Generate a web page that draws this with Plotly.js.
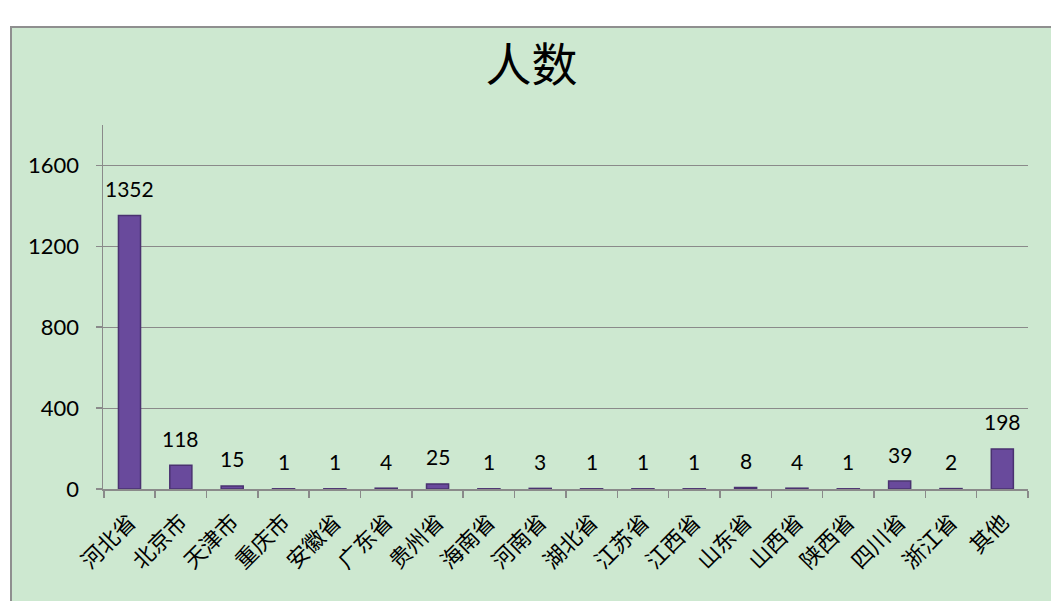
<!DOCTYPE html>
<html><head><meta charset="utf-8">
<script src="https://cdn.plot.ly/plotly-3.0.1.min.js"></script>
<style>
html,body{margin:0;padding:0;background:#fff;width:1051px;height:601px;overflow:hidden;}
#box{position:absolute;left:10px;top:26px;width:1039px;height:573px;border-left:2px solid #8f8f8f;border-top:2px solid #8f8f8f;background:#cde8d0;}
#chart{position:absolute;left:0;top:0;width:1039px;height:573px;}
</style></head>
<body>
<div id="box"><div id="chart"></div></div>
<script>
const categories = ["河北省","北京市","天津市","重庆市","安徽省","广东省","贵州省","海南省","河南省","湖北省","江苏省","江西省","山东省","山西省","陕西省","四川省","浙江省","其他"];
const counts = [1352,118,15,1,1,4,25,1,3,1,1,1,8,4,1,39,2,198];
const yTicks = [0,400,800,1200,1600];
const titleText = "人数";

const trace = {
  type: "bar",
  x: categories,
  y: counts,
  width: 0.43,
  marker: {color: "#694a9c", line: {color: "#4a3270", width: 1.5}},
  hoverinfo: "none"
};

const labels = categories.map((c, i) => ({
  x: c, y: counts[i], xref: "x", yref: "y",
  text: String(counts[i]), showarrow: false,
  yanchor: "middle", xanchor: "center", yshift: 27,
  font: {family: "Lato, 'Open Sans', sans-serif", size: 21, color: "#000"}
}));

const layout = {
  width: 1039, height: 573,
  paper_bgcolor: "rgba(0,0,0,0)",
  plot_bgcolor: "rgba(0,0,0,0)",
  margin: {l: 91, r: 23, t: 97, b: 112},
  showlegend: false,
  title: {text: titleText, x: 0.5, xanchor: "center", xref: "container",
          y: 0.935, yanchor: "middle", yref: "container",
          font: {family: "'Noto Sans CJK SC', sans-serif", size: 46, color: "#000"}},
  annotations: labels,
  xaxis: {
    type: "category",
    tickangle: -45,
    tickfont: {family: "'Noto Sans CJK SC', sans-serif", size: 22, color: "#000"},
    ticklabelstandoff: 10,
    showline: true, linecolor: "#8a8a8a", linewidth: 1.5,
    ticks: "outside", tickson: "boundaries", ticklen: 7, tickcolor: "#8a8a8a", tickwidth: 1.5,
    showgrid: false, zeroline: false
  },
  yaxis: {
    range: [0, 1800],
    tickvals: yTicks,
    ticktext: yTicks.map(String),
    tickfont: {family: "Lato, 'Open Sans', sans-serif", size: 22, color: "#000"},
    showline: true, linecolor: "#8a8a8a", linewidth: 1.5,
    ticks: "outside", ticklen: 6, tickcolor: "#8a8a8a", tickwidth: 1.5,
    ticklabelstandoff: 12,
    showgrid: true, gridcolor: "#8a8a8a", gridwidth: 1,
    zeroline: false
  }
};

Plotly.newPlot("chart", [trace], layout, {displayModeBar: false, staticPlot: true});
</script>
</body></html>
